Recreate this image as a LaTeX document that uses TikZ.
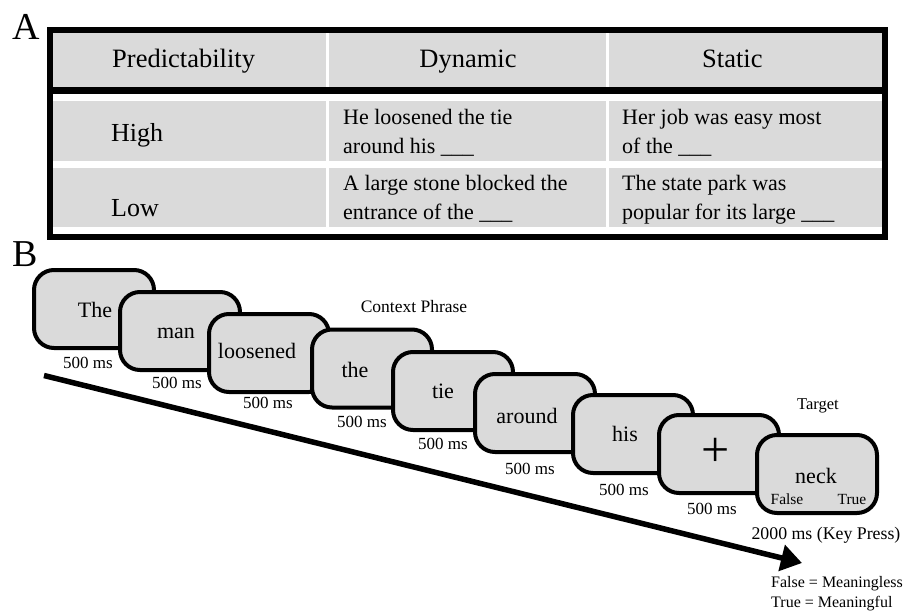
\documentclass[tikz,border=0pt]{standalone}
\usepackage{fontspec}
\setmainfont{Liberation Serif}
\usetikzlibrary{arrows.meta}
\definecolor{boxgray}{RGB}{218,218,218}
\newcommand\myfs[1]{\fontsize{#1}{#1}\selectfont}
\begin{document}
\begin{tikzpicture}[x=1pt,y=-1pt,
  slide/.style={draw=black, line width=4pt, fill=boxgray, rounded corners=20pt,
    minimum width=120pt, minimum height=78pt, inner sep=0pt},
  txt/.style={inner sep=0pt, anchor=base, text=black},
  word/.style={txt, font=\myfs{22}},
  mslab/.style={txt, font=\myfs{17}},
  hdr/.style={txt, font=\myfs{26.5}},
  rowlab/.style={txt, anchor=base west, font=\myfs{26}},
  celltxt/.style={txt, anchor=base west, font=\myfs{22}},
  panel/.style={txt, anchor=base west, font=\myfs{38}},
  note/.style={txt, font=\myfs{17.5}},
  legend/.style={txt, anchor=base west, font=\myfs{16}}]
\useasboundingbox (0,0) rectangle (914,611);

% ---------- Panel A: table ----------
\node[panel] (lblA) at (12,39) {A};
\fill[black] (47,27) rectangle (888,240);
\fill[white] (53,33) rectangle (882,87);
\fill[white] (53,93.5) rectangle (882,234);
\foreach \ya/\yb in {33/87, 101/161, 168/227} {
  \fill[boxgray] (53,\ya) rectangle (326,\yb);
  \fill[boxgray] (329,\ya) rectangle (606,\yb);
  \fill[boxgray] (609,\ya) rectangle (882,\yb);
}
\node[hdr, anchor=base west] (hPred) at (112,67.5) {Predictability};
\node[hdr] (hDyn) at (468,67.5) {Dynamic};
\node[hdr, anchor=base west] (hStat) at (702,67.5) {Static};

\node[rowlab] (rHigh) at (111,141) {High};
\node[rowlab] (rLow) at (111,216) {Low};

\node[celltxt] (dh1) at (343,124.5) {He loosened the tie};
\node[celltxt] (dh2) at (343,153) {around his \_\_\_};
\node[celltxt] (sh1) at (622,124.5) {Her job was easy most};
\node[celltxt] (sh2) at (622,153) {of the \_\_\_};
\node[celltxt] (dl1) at (343,190.5) {A large stone blocked the};
\node[celltxt] (dl2) at (343,219.5) {entrance of the \_\_\_};
\node[celltxt] (sl1) at (622,190.5) {The state park was};
\node[celltxt] (sl2) at (622,219.5) {popular for its large \_\_\_};

% ---------- Panel B: sequence ----------
\node[panel] (lblB) at (12,266) {B};

\coordinate (astart) at (44,375.5);
\coordinate (aend) at (802,563);
\draw[line width=5.5pt, -{Triangle[length=21pt,width=26pt]}] (astart) -- (aend);

\node[slide] (s1) at (94,309) {};
\node[word] (w1) at (95,317) {The};
\node[slide] (s2) at (180,331) {};
\node[word] (w2) at (176,338) {man};
\node[slide] (s3) at (269,353) {};
\node[word] (w3) at (257,358) {loosened};
\node[slide] (s4) at (372,368.5) {};
\node[word] (w4) at (355,377) {the};
\node[slide] (s5) at (453,391) {};
\node[word] (w5) at (443,398) {tie};
\node[slide] (s6) at (535,413) {};
\node[word] (w6) at (527,423) {around};
\node[slide] (s7) at (633,434) {};
\node[word] (w7) at (625,441) {his};
\node[slide] (s8) at (719,454) {};
\node[inner sep=0pt, font=\myfs{50}] (w8) at (716,452) {+};
\node[slide] (s9) at (817,474) {};
\node[word] (w9) at (816,483) {neck};
\node[txt, font=\myfs{15.5}] (kF) at (787,504) {False};
\node[txt, font=\myfs{15.5}] (kT) at (852,504) {True};

\node[mslab] (m1) at (88,368) {500 ms};
\node[mslab] (m2) at (177,388) {500 ms};
\node[mslab] (m3) at (268,408) {500 ms};
\node[mslab] (m4) at (362,427) {500 ms};
\node[mslab] (m5) at (443,449) {500 ms};
\node[mslab] (m6) at (530,474) {500 ms};
\node[mslab] (m7) at (624,495) {500 ms};
\node[mslab] (m8) at (712,514) {500 ms};
\node[txt, font=\myfs{17.8}] (m9) at (826,539) {2000 ms (Key Press)};

\node[note] (ctx) at (414,312) {Context Phrase};
\node[txt, font=\myfs{16.5}] (tgt) at (818,409) {Target};

\node[legend] (lg1) at (771,587) {False = Meaningless};
\node[legend] (lg2) at (771,607) {True = Meaningful};
\end{tikzpicture}
\end{document}
